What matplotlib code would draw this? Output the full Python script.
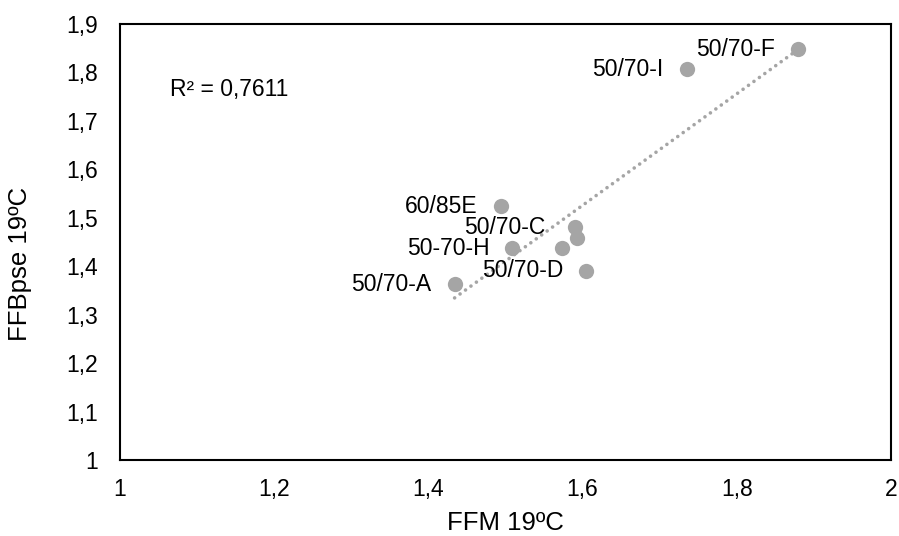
import matplotlib
matplotlib.use("Agg")
import matplotlib.pyplot as plt
import numpy as np

plt.rcParams['font.family'] = ['Liberation Sans', 'DejaVu Sans']

ffm = [1.879, 1.735, 1.494, 1.590, 1.593, 1.509, 1.573, 1.605, 1.434]
ffbpse = [1.848, 1.807, 1.524, 1.480, 1.458, 1.437, 1.437, 1.391, 1.363]
labels = ["50/70-F", "50/70-I", "60/85E", "50/70-C", "", "50-70-H", "", "50/70-D", "50/70-A"]
xticks = [1, 1.2, 1.4, 1.6, 1.8, 2]
yticks = [1, 1.1, 1.2, 1.3, 1.4, 1.5, 1.6, 1.7, 1.8, 1.9]
r2_text = "R² = 0,7611"

fig = plt.figure(figsize=(8.99, 5.36), dpi=100)
ax = fig.add_axes([120/899, 1-460/536, (891-120)/899, (460-24)/536])

grey = '#A5A5A5'
x = np.array(ffm)
y = np.array(ffbpse)
coef = np.polyfit(x, y, 1)
xl = np.array([x.min(), x.max()])
ax.plot(xl, np.polyval(coef, xl), color=grey, linewidth=2.6,
        linestyle=(0, (0.01, 1.85)), dash_capstyle='round', zorder=2)
ax.plot(x, y, 'o', color=grey, markersize=11, markeredgewidth=0, zorder=3)

offsets = {"50/70-C": -30}
for xi, yi, lab in zip(x, y, labels):
    if lab:
        ax.annotate(lab, (xi, yi), xytext=(offsets.get(lab, -23), 0),
                    textcoords='offset pixels', ha='right', va='center',
                    fontsize=16.5, color='black', zorder=4)

ax.text(1.065, 1.764, r2_text, fontsize=16.5, ha='left', va='center')

ax.set_xlim(1, 2)
ax.set_ylim(1, 1.9)
ax.set_xticks(xticks)
ax.set_yticks(yticks)
fmt = lambda v: ('%g' % v).replace('.', ',')
ax.set_xticklabels([fmt(v) for v in xticks])
ax.set_yticklabels([fmt(v) for v in yticks])
ax.tick_params(length=0, labelsize=16.5)
ax.tick_params(axis='x', pad=13)
ax.tick_params(axis='y', pad=16)
for s in ax.spines.values():
    s.set_linewidth(1.5)
    s.set_color('black')
ax.set_xlabel("FFM 19ºC", fontsize=18.5, va='center')
ax.set_ylabel("FFBpse 19ºC", fontsize=18.5, va='center')
ax.xaxis.set_label_coords(0.5, (460-523)/436)
ax.yaxis.set_label_coords((20-120)/771, (460-264)/436)

fig.savefig("out.png", dpi=100)
